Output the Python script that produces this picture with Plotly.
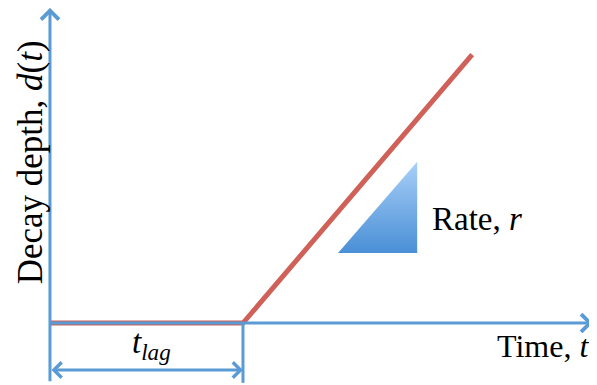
import plotly.graph_objects as go

# Schematic lag-then-linear decay model
time = [0, 4, 8.75]        # t = 0, t_lag, end of drawn line
depth = [0, 0, 5.56]       # d(t): flat during lag, then rises at rate r
t_lag = 4
rate_tri_x = [5.97, 7.61, 7.61, 5.97]
rate_tri_y = [1.45, 1.45, 3.34, 1.45]

x_axis_end = 11.25
y_axis_end = 6.53
axis_bottom = -1.24
lag_arrow_y = -0.974

BLUE = '#5B9BD5'
RED = '#CF6159'
FONT = 'Liberation Serif'

fig = go.Figure()

# Rate triangle with vertical gradient
fig.add_trace(go.Scatter(
    x=rate_tri_x, y=rate_tri_y,
    mode='lines', fill='toself',
    line=dict(width=0, color='rgba(0,0,0,0)'),
    fillgradient=dict(type='vertical',
                      colorscale=[[0, '#4A8FD6'], [1, '#A8CFF8']]),
    hoverinfo='skip'
))

# x axis (drawn under the red line)
fig.add_annotation(x=x_axis_end, y=0, ax=0, ay=0, xref='x', yref='y',
                   axref='x', ayref='y', text='', showarrow=True,
                   arrowhead=4, arrowsize=1.15, arrowwidth=3, arrowcolor=BLUE)

# decay curve
fig.add_trace(go.Scatter(
    x=time, y=depth, mode='lines',
    line=dict(color=RED, width=5),
    hoverinfo='skip'
))

# y axis
fig.add_annotation(x=0, y=y_axis_end, ax=0, ay=axis_bottom, xref='x', yref='y',
                   axref='x', ayref='y', text='', showarrow=True,
                   arrowhead=4, arrowsize=1.15, arrowwidth=3, arrowcolor=BLUE)

# t_lag marker line
fig.add_shape(type='line', x0=t_lag, x1=t_lag, y0=0, y1=axis_bottom,
              xref='x', yref='y', line=dict(color=BLUE, width=3))

# t_lag double arrow
fig.add_annotation(x=t_lag, y=lag_arrow_y, ax=0, ay=lag_arrow_y, xref='x', yref='y',
                   axref='x', ayref='y', text='', showarrow=True,
                   arrowhead=4, startarrowhead=4, arrowside='end+start',
                   arrowsize=1.0, startarrowsize=1.0, arrowwidth=3, arrowcolor=BLUE)

# labels
fig.add_annotation(x=t_lag / 2, y=0, xref='x', yref='y', showarrow=False,
                   text='<i>t</i><sub><i>lag</i></sub>', xshift=5, yshift=-21,
                   font=dict(family=FONT, size=33, color='black'))
fig.add_annotation(x=9.33, y=0, xref='x', yref='y', showarrow=False,
                   xanchor='left', yanchor='top', yshift=-3, xshift=-5,
                   text='Time, <i>t</i>',
                   font=dict(family=FONT, size=32, color='black'))
fig.add_annotation(x=7.61, y=2.35, xref='x', yref='y', showarrow=False,
                   xanchor='left', xshift=13, yshift=-9,
                   text='Rate, <i>r</i>',
                   font=dict(family=FONT, size=33, color='black'))
fig.add_annotation(x=0, y=3.33, xref='x', yref='y', showarrow=False,
                   textangle=-90, xshift=-20,
                   text='Decay depth, <i>d</i>(<i>t</i>)',
                   font=dict(family=FONT, size=35, color='black'))

# page body keeps an 8px margin, so the figure is sized to fit inside it
fig.update_layout(
    width=589, height=377,
    margin=dict(l=0, r=0, t=0, b=0),
    paper_bgcolor='white', plot_bgcolor='white',
    showlegend=False,
    xaxis=dict(range=[-0.870, 11.337], visible=False),
    yaxis=dict(range=[-1.285, 6.528], visible=False),
)

fig.write_html("out.html")
